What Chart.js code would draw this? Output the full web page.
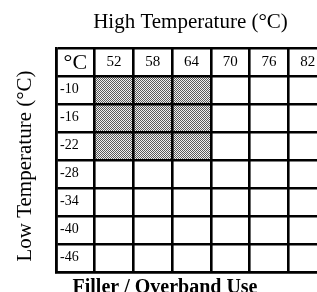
<!DOCTYPE html>
<html>
<head>
<meta charset="utf-8">
<script src="https://cdn.jsdelivr.net/npm/chart.js@4/dist/chart.umd.min.js"></script>
<style>
  html, body { margin: 0; padding: 0; background: #fff; overflow: hidden; }
  #wrap { position: relative; width: 340px; height: 292px; }
</style>
</head>
<body>
<div id="wrap"><canvas id="c" width="340" height="292"></canvas></div>
<script>
// ---- data ----
const cornerLabel = '°C';
const highTemps = ['52', '58', '64', '70', '76', '82'];
const lowTemps = ['-10', '-16', '-22', '-28', '-34', '-40', '-46'];
const fillerHigh = ['52', '58', '64'];
const fillerLow = ['-10', '-16', '-22'];
const topTitle = 'High Temperature (°C)';
const leftTitle = 'Low Temperature (°C)';
const bottomTitle = 'Filler / Overband Use';

// ---- build ----
const columns = [cornerLabel].concat(highTemps);
const lowIdx = fillerLow.map(v => lowTemps.indexOf(v));
const rowStart = Math.min(...lowIdx) + 1;
const rowEnd = Math.max(...lowIdx) + 2;
const fillData = columns.map(c => fillerHigh.includes(c) ? [rowStart, rowEnd] : null);

// halftone pattern
const pc = document.createElement('canvas');
pc.width = 2; pc.height = 2;
const pctx = pc.getContext('2d');
pctx.fillStyle = '#f0f0f0'; pctx.fillRect(0, 0, 2, 2);
pctx.fillStyle = '#5a5a5a'; pctx.fillRect(0, 0, 1, 1); pctx.fillRect(1, 1, 1, 1);
const pattern = pctx.createPattern(pc, 'repeat');

const textPlugin = {
  id: 'tableText',
  afterDraw(chart) {
    const ctx = chart.ctx;
    const xs = chart.scales.x, ys = chart.scales.y;
    const ca = chart.chartArea;
    ctx.save();
    ctx.fillStyle = '#000';
    ctx.textBaseline = 'middle';
    // header row
    ctx.textAlign = 'center';
    columns.forEach((c, i) => {
      ctx.font = i === 0 ? '22px "Liberation Serif"' : '15px "Liberation Serif"';
      ctx.fillText(c, xs.getPixelForValue(i), ys.getPixelForValue(0.5) + (i === 0 ? 1 : 0));
    });
    // row labels
    ctx.textAlign = 'left';
    ctx.font = '14px "Liberation Serif"';
    lowTemps.forEach((t, i) => {
      ctx.fillText(t, ca.left + 4, ys.getPixelForValue(i + 1.5) - 1);
    });
    // titles
    ctx.textAlign = 'center';
    ctx.textBaseline = 'alphabetic';
    ctx.font = '21px "Liberation Serif"';
    ctx.fillText(topTitle, (ca.left + ca.right) / 2 - 1, 28);
    ctx.save();
    ctx.translate(31, (ca.top + ca.bottom) / 2 + 6);
    ctx.rotate(-Math.PI / 2);
    ctx.fillText(leftTitle, 0, 0);
    ctx.restore();
    ctx.font = 'bold 20px "Liberation Serif"';
    ctx.fillText(bottomTitle, 165, 293);
    ctx.restore();
  }
};

new Chart(document.getElementById('c'), {
  type: 'bar',
  data: {
    labels: columns,
    datasets: [{
      data: fillData,
      backgroundColor: pattern,
      borderWidth: 0,
      barPercentage: 1,
      categoryPercentage: 1
    }]
  },
  options: {
    responsive: false,
    animation: false,
    events: [],
    layout: { padding: { left: 56, top: 48, right: 340 - 327, bottom: 292 - 272 } },
    plugins: { legend: { display: false }, tooltip: { enabled: false }, title: { display: false } },
    scales: {
      x: {
        type: 'category',
        offset: true,
        grid: { offset: true, color: '#000', lineWidth: 2.6, drawTicks: false, z: 1 },
        border: { display: true, color: '#000', width: 2.6, z: 2 },
        ticks: { display: false },
        afterFit(s) { s.height = 0; }
      },
      y: {
        type: 'linear',
        min: 0, max: 8,
        reverse: true,
        ticks: { display: false, stepSize: 1 },
        grid: { color: '#000', lineWidth: 2.6, drawTicks: false, z: 1 },
        border: { display: true, color: '#000', width: 2.6, z: 2 },
        afterFit(s) { s.width = 0; }
      }
    }
  },
  plugins: [textPlugin]
});
</script>
</body>
</html>
